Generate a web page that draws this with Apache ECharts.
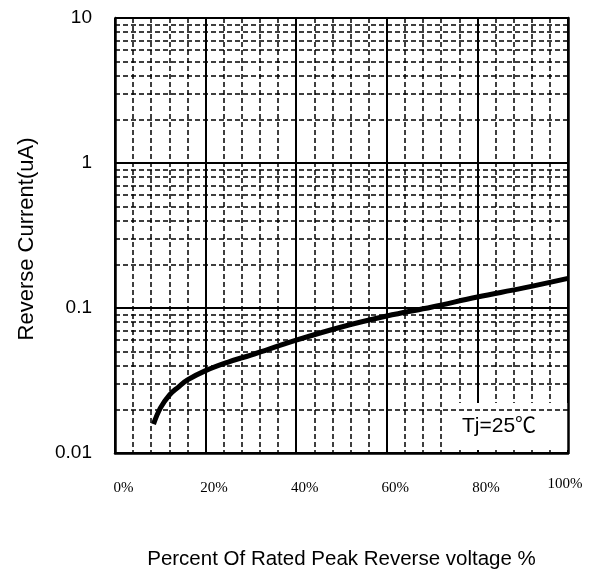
<!DOCTYPE html>
<html>
<head>
<meta charset="utf-8">
<script src="https://cdn.jsdelivr.net/npm/echarts@6/dist/echarts.min.js"></script>
<style>html,body{margin:0;padding:0;background:#fff}#c{width:601px;height:576px}</style>
</head>
<body>
<div id="c"></div>
<script>
// ---- data ----
const curveX = [8.5, 10, 12, 14, 16, 20, 25, 30, 40, 50, 60, 70, 80, 90, 100];
const curveY = [0.0158, 0.0204, 0.0251, 0.0285, 0.0319, 0.037, 0.0424, 0.0474, 0.060, 0.074, 0.088, 0.1016, 0.119, 0.137, 0.16];
const xTickLabels = ['0%', '20%', '40%', '60%', '80%', '100%'];
const yTickLabels = ['0.01', '0.1', '1', '10'];
const yMinorTicks = [0.02,0.03,0.04,0.05,0.06,0.07,0.08,0.09,0.2,0.3,0.4,0.5,0.6,0.7,0.8,0.9,2,3,4,5,6,7,8,9];
const noteText = 'Tj=25\u2103';
const noteBox = [[72.2, 0.0105], [100, 0.0221]];

const chart = echarts.init(document.getElementById('c'), null, {renderer: 'canvas'});
const sans = "Arial, 'Liberation Sans', sans-serif";
const serif = "'Times New Roman', 'Liberation Serif', serif";

chart.setOption({
  animation: false,
  backgroundColor: '#fff',
  grid: {left: 115, right: 33, top: 18, bottom: 123, containLabel: false},
  xAxis: {
    type: 'value', min: 0, max: 100, interval: 20,
    name: 'Percent Of Rated Peak Reverse voltage %',
    nameLocation: 'middle', nameGap: 96,
    nameTextStyle: {fontFamily: sans, fontSize: 20.5, color: '#000'},
    axisLine: {show: true, lineStyle: {color: '#000', width: 2.5}},
    axisTick: {show: false},
    minorTick: {show: false, splitNumber: 5},
    splitLine: {show: true, lineStyle: {color: '#000', width: 2}},
    minorSplitLine: {show: true, lineStyle: {color: '#000', width: 1.5, type: [5, 3]}},
    axisLabel: {
      margin: 24,
      formatter: function (v, i) {
        const t = xTickLabels[i];
        return i === xTickLabels.length - 1 ? '{e|' + t + '}' : '{n|' + t + '}';
      },
      rich: {
        n: {fontFamily: serif, fontSize: 15, color: '#000', padding: [4, 0, 0, 17]},
        e: {fontFamily: serif, fontSize: 15, color: '#000', padding: [0, 6, 0, 0]}
      }
    }
  },
  yAxis: [{
    type: 'log', logBase: 10, min: 0.01, max: 10,
    name: 'Reverse Current(uA)',
    nameLocation: 'middle', nameGap: 77, nameRotate: 90,
    nameTextStyle: {fontFamily: sans, fontSize: 22, color: '#000', padding: [0, 7, 0, 0]},
    axisLine: {show: true, lineStyle: {color: '#000', width: 2.5}},
    axisTick: {show: false},
    splitLine: {show: true, lineStyle: {color: '#000', width: 2}},
    axisLabel: {
      margin: 23, fontFamily: sans, fontSize: 19, color: '#000',
      formatter: function (v, i) { return yTickLabels[i]; }
    }
  }, {
    type: 'log', logBase: 10, min: 0.01, max: 10, position: 'right', z: 10,
    axisLine: {show: true, lineStyle: {color: '#000', width: 2.5}},
    axisTick: {show: false}, axisLabel: {show: false}, splitLine: {show: false}
  }],
  series: [{
    type: 'line', name: 'minorGrid', data: [], z: 1, silent: true,
    markLine: {
      silent: true, symbol: 'none', label: {show: false}, animation: false,
      lineStyle: {color: '#000', width: 1.5, type: [5, 3]},
      data: yMinorTicks.map(v => ({yAxis: v}))
    }
  }, {
    type: 'line', name: 'note', data: [], z: 4, silent: true,
    markArea: {
      silent: true,
      itemStyle: {color: '#fff', borderWidth: 0},
      label: {show: true, position: 'inside', offset: [-6, 0], formatter: noteText,
        fontFamily: "Arial, 'Liberation Sans', 'Noto Sans CJK SC', sans-serif", fontSize: 21, color: '#000'},
      data: [[{xAxis: noteBox[0][0], yAxis: noteBox[0][1]}, {xAxis: noteBox[1][0], yAxis: noteBox[1][1]}]]
    }
  }, {
    type: 'line', name: 'Reverse Current', z: 5,
    data: curveX.map((x, i) => [x, curveY[i]]),
    smooth: 0.4, showSymbol: false, symbol: 'none',
    lineStyle: {color: '#000', width: 5}
  }]
});
</script>
</body>
</html>
